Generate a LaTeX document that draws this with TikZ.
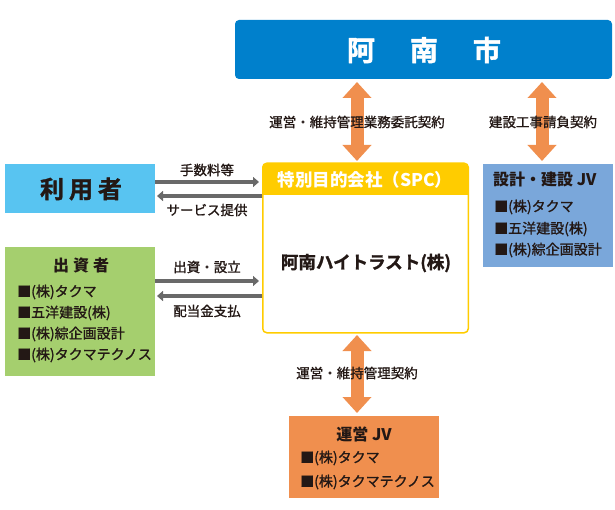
\documentclass[tikz,border=0pt]{standalone}
\usepackage{fontspec}
\setmainfont{Noto Sans CJK JP}
\newfontfamily\medfont{Noto Sans CJK JP}[FakeBold=1.2]
\newfontfamily\heavyfont{Noto Sans CJK JP}[UprightFont=* Bold, FakeBold=1.5]
\usetikzlibrary{arrows.meta}
\definecolor{cityblue}{RGB}{0,128,204}
\definecolor{userblue}{RGB}{88,196,241}
\definecolor{invgreen}{RGB}{165,207,110}
\definecolor{spcyellow}{RGB}{255,204,0}
\definecolor{jvblue}{RGB}{122,167,218}
\definecolor{opor}{RGB}{240,143,78}
\definecolor{arrgray}{RGB}{105,105,105}
\definecolor{ink}{RGB}{35,24,21}
\tikzset{
  box/.style={inner sep=0pt, outer sep=0pt},
  lbl/.style={inner sep=0pt, text=ink, font=\medfont\fontsize{13.5}{14}\selectfont},
  item/.style={inner sep=0pt, anchor=west, text=ink, font=\medfont\fontsize{14}{15}\selectfont},
  ttl/.style={inner sep=0pt, text=ink, font=\bfseries\fontsize{16}{17}\selectfont},
  bigarrow/.style={draw=opor, line width=13pt, {Triangle[width=28pt,length=16pt]}-{Triangle[width=28pt,length=16pt]}, shorten <=3pt, shorten >=3pt},
  grayarrow/.style={draw=arrgray, line width=4pt, -{Triangle[width=10pt,length=6pt]}}
}
\begin{document}
\begin{tikzpicture}[x=1pt,y=-1pt]
\useasboundingbox (0,0) rectangle (615,510);
% boxes
\node[box, fill=cityblue, rounded corners=4pt, minimum width=377pt, minimum height=59pt] (city) at (423.5,49.5) {};
\node[box, fill=userblue, minimum width=150pt, minimum height=49pt] (user) at (80,188.5) {};
\node[box, fill=invgreen, minimum width=150pt, minimum height=129pt] (inv) at (80,311.5) {};
\node[box, fill=white, rounded corners=4pt, minimum width=207pt, minimum height=168pt] (spc) at (365.5,248) {};
\node[box, fill=jvblue, minimum width=130pt, minimum height=103pt] (jv) at (548,215.5) {};
\node[box, fill=opor, minimum width=150pt, minimum height=82pt] (op) at (364,457) {};
% SPC header
\begin{scope}
\clip[rounded corners=4pt] (spc.south west) rectangle (spc.north east);
\fill[spcyellow] (spc.north west) rectangle (spc.east |- 0,195);
\end{scope}
\draw[spcyellow, line width=1.5pt, rounded corners=4pt] ([shift={(0.75pt,-0.75pt)}]spc.south west) rectangle ([shift={(-0.75pt,0.75pt)}]spc.north east);
% texts
\node[inner sep=0pt, text=white, font=\heavyfont\fontsize{28}{30}\selectfont] (cityt) at (424,50) {阿\hspace{35pt}南\hspace{35pt}市};
\node[inner sep=0pt, text=ink, font=\heavyfont\fontsize{24}{26}\selectfont] (usert) at (81,189) {利\hspace{5pt}用\hspace{5pt}者};
\node[ttl] (invt) at (81,265) {出\hspace{4pt}資\hspace{4pt}者};
\node[item] (inv1) at (17,292) {■(株)タクマ};
\node[item] (inv2) at (17,313) {■五洋建設(株)};
\node[item] (inv3) at (17,334) {■(株)綜企画設計};
\node[item] (inv4) at (17,355) {■(株)タクマテクノス};
\node[inner sep=0pt, text=white, font=\bfseries\fontsize{17.5}{18}\selectfont] (spch) at (365,180) {特別目的会社（SPC）};
\node[inner sep=0pt, text=ink, font=\heavyfont\fontsize{17.5}{18}\selectfont] (spct) at (366,263) {阿南ハイトラスト(株)};
\node[ttl, anchor=west] (jvt) at (493,180) {設計・建設 JV};
\node[item] (jv1) at (494,207) {■(株)タクマ};
\node[item] (jv2) at (494,229) {■五洋建設(株)};
\node[item] (jv3) at (494,250) {■(株)綜企画設計};
\node[ttl] (opt) at (364,434) {運営 JV};
\node[item] (op1) at (300,458) {■(株)タクマ};
\node[item] (op2) at (300,482) {■(株)タクマテクノス};
% orange arrows
\draw[bigarrow] (city.south -| 357,0) -- (spc.north -| 357,0);
\draw[bigarrow] (city.south -| 542,0) -- (jv.north -| 542,0);
\draw[bigarrow] (spc.south -| 357,0) -- (op.north -| 357,0);
\node[lbl] (l1) at (357,122) {運営・維持管理業務委託契約};
\node[lbl] (l2) at (543,122) {建設工事請負契約};
\node[lbl] (l3) at (357,373) {運営・維持管理契約};
% gray arrows
\draw[grayarrow] (user.east |- 0,182) -- ([xshift=-3pt]spc.west |- 0,182);
\draw[grayarrow] (spc.west |- 0,196) -- ([xshift=2pt]user.east |- 0,196);
\draw[grayarrow] (inv.east |- 0,281) -- ([xshift=-3pt]spc.west |- 0,281);
\draw[grayarrow] (spc.west |- 0,296) -- ([xshift=2pt]inv.east |- 0,296);
\node[lbl] (g1) at (207,170) {手数料等};
\node[lbl] (g2) at (207,210) {サービス提供};
\node[lbl] (g3) at (207,267) {出資・設立};
\node[lbl] (g4) at (207,311) {配当金支払};
\end{tikzpicture}
\end{document}
